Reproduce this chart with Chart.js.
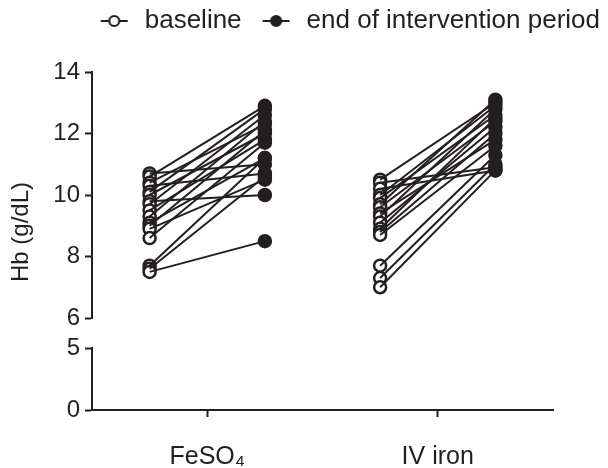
<!DOCTYPE html>
<html><head><meta charset="utf-8">
<script src="https://cdn.jsdelivr.net/npm/chart.js@4.4.0/dist/chart.umd.min.js"></script>
<style>html,body{margin:0;padding:0;background:#fff}</style>
</head><body>
<canvas id="c" width="608" height="468"></canvas>
<script>
// ---- data ----
const categories = ['FeSO\u2084', 'IV iron'];
const seriesNames = ['baseline', 'end of intervention period'];
const fesoBaseline = [10.7, 10.6, 10.4, 10.3, 10.1, 10.0, 9.8, 9.7, 9.5, 9.3, 9.1, 9.0, 8.9, 8.6, 7.7, 7.6, 7.5];
const fesoEnd      = [11.0, 12.9, 12.3, 10.7, 12.8, 12.0, 10.0, 12.6, 11.8, 12.4, 11.2, 12.1, 10.5, 11.7, 11.2, 10.6, 8.5];
const ivBaseline   = [10.5, 10.4, 10.2, 10.0, 9.9, 9.7, 9.6, 9.4, 9.3, 9.1, 8.9, 8.8, 8.7, 7.7, 7.3, 7.0];
const ivEnd        = [13.0, 10.9, 10.8, 12.9, 12.6, 13.1, 12.4, 11.8, 12.8, 12.2, 12.5, 12.0, 11.6, 11.3, 11.0, 10.8];
const upperTicks = [6, 8, 10, 12, 14];
const lowerTicks = [0, 5];
const yTitle = 'Hb (g/dL)';

// ---- styling ----
const INK = '#231f20';
const FONT = "'Liberation Sans', Arial, sans-serif";
const HALF = 0.25;

const groups = [
  {baseline: fesoBaseline, end: fesoEnd},
  {baseline: ivBaseline, end: ivEnd}
];

const lineSets = [];
const basePts = [], endPts = [];
groups.forEach((g, gi) => {
  const c = gi + 1;
  g.baseline.forEach((b, i) => {
    const p0 = {x: c - HALF, y: b}, p1 = {x: c + HALF, y: g.end[i]};
    lineSets.push({label: '_pair', data: [p0, p1], showLine: true, borderColor: INK,
      borderWidth: 2, pointRadius: 0, pointHoverRadius: 0, order: 1, yAxisID: 'y'});
    basePts.push(p0);
    endPts.push(p1);
  });
});

const pointBase = {showLine: false, pointRadius: 6, pointBorderWidth: 2.5,
  pointBorderColor: INK, order: 2, yAxisID: 'y'};
const datasets = [
  Object.assign({label: seriesNames[0], data: basePts, pointBackgroundColor: '#fff'}, pointBase),
  Object.assign({label: seriesNames[1], data: endPts, pointBackgroundColor: INK}, pointBase),
  ...lineSets
];

function marker(filled) {
  const cv = document.createElement('canvas');
  cv.width = 44; cv.height = 16;
  const ctx = cv.getContext('2d');
  ctx.strokeStyle = INK; ctx.lineWidth = 2;
  ctx.beginPath(); ctx.moveTo(13, 8); ctx.lineTo(40, 8); ctx.stroke();
  ctx.beginPath(); ctx.arc(26.5, 8, 5, 0, Math.PI * 2);
  ctx.fillStyle = filled ? INK : '#fff'; ctx.fill();
  ctx.lineWidth = 2.2; ctx.stroke();
  return cv;
}
const markers = [marker(false), marker(true)];

const hiddenAxis = (extra) => Object.assign({
  type: 'linear', position: 'left', display: true, min: 0, max: 1,
  ticks: {display: false}, grid: {display: false}, border: {display: false}
}, extra);

const axisCommon = {
  grid: {drawOnChartArea: false, drawTicks: true, tickLength: 7, tickWidth: 2, tickColor: INK},
  border: {display: true, color: INK, width: 2}
};

const legendSpace = {
  id: 'legendSpace',
  beforeInit(chart) {
    const fit = chart.legend.fit;
    chart.legend.fit = function () { fit.call(this); this.height += 28; };
  }
};

new Chart(document.getElementById('c'), {
  type: 'scatter',
  data: {datasets},
  plugins: [legendSpace],
  options: {
    responsive: false,
    animation: false,
    devicePixelRatio: 1,
    layout: {padding: {top: 0, right: 0, left: 0, bottom: 0}},
    plugins: {
      tooltip: {enabled: false},
      legend: {
        position: 'top', align: 'end',
        labels: {
          usePointStyle: true, pointStyleWidth: 44, boxHeight: 16, padding: 8,
          color: INK, font: {family: FONT, size: 26},
          generateLabels: () => seriesNames.map((t, i) => ({
            text: t, pointStyle: markers[i], datasetIndex: i, hidden: false,
            fontColor: INK, lineWidth: 0, strokeStyle: 'rgba(0,0,0,0)', fillStyle: 'rgba(0,0,0,0)'
          }))
        }
      }
    },
    scales: {
      x: Object.assign({}, axisCommon, {
        type: 'linear', position: 'bottom', min: 0.5, max: 2.5,
        afterBuildTicks: s => { s.ticks = categories.map((c, i) => ({value: i + 1})); },
        afterFit: s => { s.height = 58; },
        ticks: {color: INK, font: {family: FONT, size: 25}, padding: 25,
          callback: v => categories[Math.round(v) - 1] || ''}
      }),
      yTitle: hiddenAxis({stack: 'title', stackWeight: 320, weight: 10,
        afterFit: s => { s.width = 40; },
        title: {display: true, text: yTitle, color: INK, font: {family: FONT, size: 24},
          padding: {top: 7, bottom: 0}}}),
      yTitlePad: hiddenAxis({stack: 'title', stackWeight: 18, weight: 9}),
      y: Object.assign({}, axisCommon, {
        type: 'linear', position: 'left', stack: 'hb', stackWeight: 246, weight: 8,
        min: 6, max: 14,
        afterBuildTicks: s => { s.ticks = upperTicks.map(v => ({value: v})); },
        afterFit: s => { s.width = 52; },
        ticks: {color: INK, font: {family: FONT, size: 24}, padding: 5}
      }),
      yGap: hiddenAxis({stack: 'hb', stackWeight: 30, weight: 7}),
      y2: Object.assign({}, axisCommon, {
        type: 'linear', position: 'left', stack: 'hb', stackWeight: 62, weight: 6,
        min: 0, max: 5,
        afterBuildTicks: s => { s.ticks = lowerTicks.map(v => ({value: v})); },
        afterFit: s => { s.width = 52; },
        ticks: {color: INK, font: {family: FONT, size: 24}, padding: 5}
      }),
      yRight: hiddenAxis({position: 'right', afterFit: s => { s.width = 55; }})
    }
  }
});
</script>
</body></html>
